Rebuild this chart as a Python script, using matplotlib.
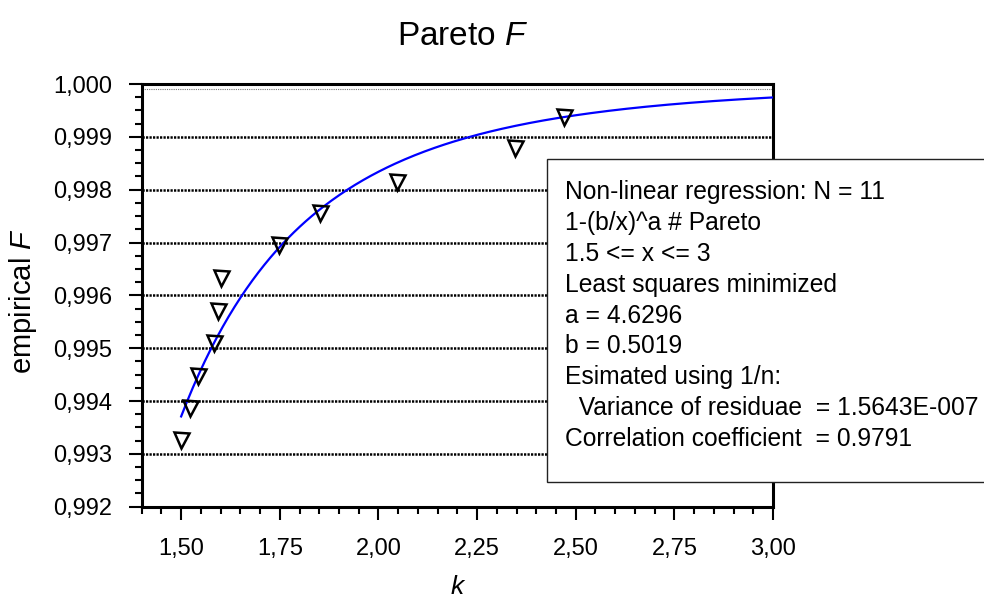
import numpy as np
import matplotlib
matplotlib.use('Agg')
import matplotlib.pyplot as plt
from matplotlib.ticker import MultipleLocator, FuncFormatter
from matplotlib.patches import Rectangle

plt.rcParams['font.family'] = ['Liberation Sans', 'DejaVu Sans']
plt.rcParams['mathtext.fontset'] = 'custom'
plt.rcParams['mathtext.rm'] = 'Liberation Sans'
plt.rcParams['mathtext.it'] = 'Liberation Sans:italic'

# empirical points
k_values = [1.50, 1.523, 1.543, 1.584, 1.593, 1.601, 1.748, 1.853, 2.047, 2.346, 2.471]
f_values = [0.99326, 0.99386, 0.99447, 0.99509, 0.99570, 0.99632,
            0.99695, 0.99755, 0.99815, 0.99878, 0.99938]

# fitted Pareto parameters
a_fit = 4.6296
b_fit = 0.5019
x_from, x_to = 1.5, 3.0

x_ticks = [1.50, 1.75, 2.00, 2.25, 2.50, 2.75, 3.00]
y_ticks = [0.992, 0.993, 0.994, 0.995, 0.996, 0.997, 0.998, 0.999, 1.000]

info_lines = [
    'Non-linear regression: N = 11',
    '1-(b/x)^a # Pareto',
    '1.5 <= x <= 3',
    'Least squares minimized',
    'a = 4.6296',
    'b = 0.5019',
    'Esimated using 1/n:',
    '  Variance of residuae  = 1.5643E-007',
    'Correlation coefficient  = 0.9791',
]

fig = plt.figure(figsize=(9.84, 6.01), dpi=100)
ax = fig.add_axes([0.144, 0.1569, 0.6416, 0.7033])

xs = np.linspace(x_from, x_to, 300)
ax.plot(xs, 1 - (b_fit / xs) ** a_fit, color='#0000ff', lw=1.6, zorder=3)
ax.plot(k_values, f_values, linestyle='none', marker='v', markersize=10.8,
        markerfacecolor='none', markeredgecolor='black', markeredgewidth=1.8, zorder=4)

for yv in y_ticks[1:-1]:
    ax.axhline(yv, color='black', lw=1.8, linestyle=(0, (0.9, 0.5)), zorder=1)
ax.axhline(0.9999, color='#777777', lw=0.8, linestyle=(0, (1, 1)), zorder=1)

ax.set_xlim(1.40, 3.00)
ax.set_ylim(0.992, 1.000)
ax.set_xticks(x_ticks)
ax.set_yticks(y_ticks)
ax.xaxis.set_minor_locator(MultipleLocator(0.05))
ax.yaxis.set_minor_locator(MultipleLocator(0.00025))
ax.xaxis.set_major_formatter(FuncFormatter(lambda v, p: '{:.2f}'.format(v).replace('.', ',')))
ax.yaxis.set_major_formatter(FuncFormatter(lambda v, p: '{:.3f}'.format(v).replace('.', ',')))
ax.tick_params(which='major', direction='out', length=9.4, width=1.5, labelsize=17, pad=12)
ax.tick_params(which='minor', direction='out', length=4.7, width=1.5)
ax.tick_params(axis='x', which='major', pad=13)
for s in ax.spines.values():
    s.set_linewidth(2.2)

fig.text(0.4705, 1 - 45 / 601, 'Pareto $\\mathit{F}$', fontsize=24, ha='center', va='baseline')
fig.text(23 / 984, 1 - 301 / 601, 'empirical $\\mathit{F}$', fontsize=21, rotation=90,
         ha='center', va='center')
fig.text(458 / 984, 2 / 601, '$\\mathit{k}$', fontsize=19, ha='center', va='bottom')

# results box sits over the right spine and runs off the figure edge
fig.add_artist(Rectangle((546.7 / 984, 1 - 481.7 / 601), 0.5, (481.7 - 159.3) / 601,
                         transform=fig.transFigure, facecolor='white',
                         edgecolor='#222222', lw=1.0, zorder=5))
for i, line in enumerate(info_lines):
    fig.text(565 / 984, 1 - (199.3 + i * 30.83) / 601, line, fontsize=17.7,
             ha='left', va='baseline', zorder=6)

fig.savefig('out.png', dpi=100)
